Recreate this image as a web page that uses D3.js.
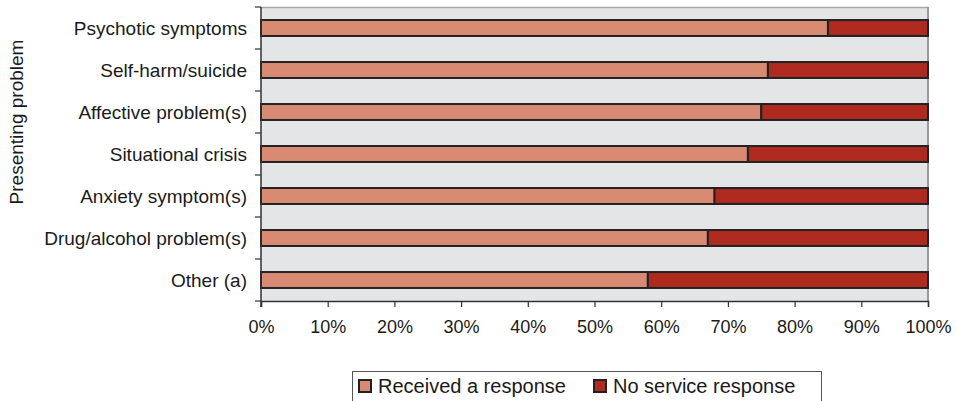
<html>
<head>
<script src="https://d3js.org/d3.v7.min.js"></script>
<style>
    body { margin: 0; background: #fff; }
    text { font-family: "Liberation Sans", Arial, sans-serif; fill: #1a1a1a; }
</style>
</head>
<body>
<svg id="chart" width="957" height="401"></svg>
<script>
// data
const categories = ["Psychotic symptoms", "Self-harm/suicide", "Affective problem(s)", "Situational crisis",
                    "Anxiety symptom(s)", "Drug/alcohol problem(s)", "Other (a)"];
const received = [85, 76, 75, 73, 68, 67, 58];
const noService = [15, 24, 25, 27, 32, 33, 42];
const seriesNames = ["Received a response", "No service response"];
const xTicks = [0, 10, 20, 30, 40, 50, 60, 70, 80, 90, 100];

const colors = ["#d88b72", "#ae291e"];
const svg = d3.select("#chart");
const pLeft = 261, pRight = 928, pTop = 7, pBottom = 301;

const x = d3.scaleLinear().domain([0, 100]).range([pLeft, pRight]);
const y = d3.scaleBand().domain(categories).range([pTop, pBottom]).padding(0);
const bh = y.bandwidth() * 0.38;

// plot background
svg.append("rect").attr("x", pLeft).attr("y", pTop).attr("width", pRight - pLeft).attr("height", pBottom - pTop)
    .attr("fill", "#e4e5e7");
svg.append("line").attr("x1", pLeft).attr("x2", pRight).attr("y1", pTop + 0.5).attr("y2", pTop + 0.5)
    .attr("stroke", "#a8a8a8").attr("stroke-width", 1.5);
svg.append("line").attr("x1", pRight).attr("x2", pRight).attr("y1", pTop).attr("y2", pBottom)
    .attr("stroke", "#9a9a9a").attr("stroke-width", 2);

const stacked = categories.map((c, i) => ({cat: c, vals: [[0, received[i]], [received[i], received[i] + noService[i]]]}));

const g = svg.append("g");
stacked.forEach(d => {
    d.vals.forEach((v, j) => {
        g.append("rect")
            .attr("x", x(v[0]))
            .attr("y", y(d.cat) + (y.bandwidth() - bh) / 2)
            .attr("width", x(v[1]) - x(v[0]))
            .attr("height", bh)
            .attr("fill", colors[j])
            .attr("stroke", "#222")
            .attr("stroke-width", 2);
    });
});

// y axis: ticks on band boundaries
const yAx = svg.append("g").attr("transform", `translate(${pLeft},0)`);
yAx.append("line").attr("x1", 0).attr("x2", 0).attr("y1", pTop).attr("y2", pBottom + 6).attr("stroke", "#333").attr("stroke-width", 1.5);
const bounds = categories.map(c => y(c)).concat([pBottom]);
yAx.selectAll(".yt").data(bounds).join("line")
    .attr("x1", -6).attr("x2", 0).attr("y1", d => d).attr("y2", d => d)
    .attr("stroke", "#333").attr("stroke-width", 1.2);
svg.append("g").selectAll("text").data(categories).join("text")
    .attr("x", 247).attr("y", d => y(d) + y.bandwidth() / 2)
    .attr("dy", "0.35em").attr("text-anchor", "end")
    .style("font-size", "19px").text(d => d);

// x axis
const xAx = svg.append("g").attr("transform", `translate(0,${pBottom})`)
    .call(d3.axisBottom(x).tickValues(xTicks).tickSize(6).tickPadding(13).tickFormat(d => d + "%"));
xAx.select(".domain").attr("stroke", "#333").attr("stroke-width", 1.5);
xAx.selectAll(".tick line").attr("stroke", "#333").attr("stroke-width", 1.2);
xAx.selectAll(".tick text").style("font-size", "18px").style("font-family", "'Liberation Sans', Arial, sans-serif").attr("fill", "#1a1a1a");

// y title
svg.append("text").attr("transform", "translate(23,122) rotate(-90)")
    .attr("text-anchor", "middle").style("font-size", "19px").text("Presenting problem");

// legend
svg.append("rect").attr("x", 352.5).attr("y", 371.5).attr("width", 469).attr("height", 40)
    .attr("fill", "#fff").attr("stroke", "#555").attr("stroke-width", 1);
const legX = [359, 594];
seriesNames.forEach((n, i) => {
    svg.append("rect").attr("x", legX[i]).attr("y", 380).attr("width", 12).attr("height", 12)
        .attr("fill", colors[i]).attr("stroke", "#222").attr("stroke-width", 2);
    svg.append("text").attr("x", legX[i] + 19).attr("y", 393)
        .style("font-size", "20px").text(n);
});
</script>
</body>
</html>
